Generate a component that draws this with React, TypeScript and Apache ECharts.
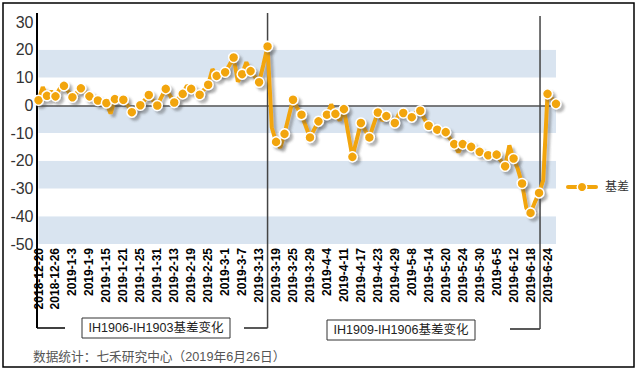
import React, { useEffect, useRef } from "react";
import * as echarts from "echarts";

const dates = [
  "2018-12-20", "2018-12-21", "2018-12-24", "2018-12-25", "2018-12-26", "2018-12-27", "2018-12-28",
  "2019-1-2", "2019-1-3", "2019-1-4", "2019-1-7", "2019-1-8", "2019-1-9", "2019-1-10", "2019-1-11",
  "2019-1-14", "2019-1-15", "2019-1-16", "2019-1-17", "2019-1-18", "2019-1-21", "2019-1-22", "2019-1-23",
  "2019-1-24", "2019-1-25", "2019-1-28", "2019-1-29", "2019-1-30", "2019-1-31",
  "2019-2-1", "2019-2-11", "2019-2-12", "2019-2-13", "2019-2-14", "2019-2-15", "2019-2-18", "2019-2-19",
  "2019-2-20", "2019-2-21", "2019-2-22", "2019-2-25", "2019-2-26", "2019-2-27", "2019-2-28",
  "2019-3-1", "2019-3-4", "2019-3-5", "2019-3-6", "2019-3-7", "2019-3-8", "2019-3-11", "2019-3-12",
  "2019-3-13", "2019-3-14", "2019-3-15", "2019-3-18", "2019-3-19", "2019-3-20", "2019-3-21", "2019-3-22",
  "2019-3-25", "2019-3-26", "2019-3-27", "2019-3-28", "2019-3-29",
  "2019-4-1", "2019-4-2", "2019-4-3", "2019-4-4", "2019-4-8", "2019-4-9", "2019-4-10", "2019-4-11",
  "2019-4-12", "2019-4-15", "2019-4-16", "2019-4-17", "2019-4-18", "2019-4-19", "2019-4-22", "2019-4-23",
  "2019-4-24", "2019-4-25", "2019-4-26", "2019-4-29", "2019-4-30",
  "2019-5-6", "2019-5-7", "2019-5-8", "2019-5-9", "2019-5-10", "2019-5-13", "2019-5-14", "2019-5-15",
  "2019-5-16", "2019-5-17", "2019-5-20", "2019-5-21", "2019-5-22", "2019-5-23", "2019-5-24", "2019-5-27",
  "2019-5-28", "2019-5-29", "2019-5-30", "2019-5-31",
  "2019-6-3", "2019-6-4", "2019-6-5", "2019-6-6", "2019-6-10", "2019-6-11", "2019-6-12", "2019-6-13",
  "2019-6-14", "2019-6-17", "2019-6-18", "2019-6-19", "2019-6-20", "2019-6-21", "2019-6-24", "2019-6-25",
  "2019-6-26",
];

const basis = [
  1.8, 6.5, 3.4, 5.0, 3.2, 6.0, 7.0, 5.0, 2.9, 4.5,
  6.1, 4.7, 3.2, 2.5, 1.7, 1.2, 0.8, -3.0, 2.2, 2.2,
  2.0, 0.0, -2.5, -1.2, 0.0, 1.8, 3.7, 1.7, -0.1, 3.0,
  5.9, 3.5, 1.0, 2.5, 4.1, 7.1, 5.9, 4.8, 3.8, 5.6,
  7.4, 13.0, 10.6, 11.3, 11.9, 14.5, 17.2, 8.5, 11.2, 15.5,
  12.3, 10.3, 8.3, 14.5, 21.2, -8.0, -13.2, -15.3, -10.3, -4.0,
  2.0, -1.0, -3.4, -7.5, -11.6, -8.7, -5.8, -4.6, -3.4, 0.3,
  -3.1, -5.5, -1.4, -10.0, -18.6, -12.5, -6.4, -9.0, -11.6, -7.0,
  -2.6, -5.5, -3.9, -5.0, -6.4, -3.0, -2.8, -3.0, -4.3, -2.5,
  -2.0, -5.0, -7.4, -8.0, -8.8, -9.2, -9.7, -12.0, -14.0, -17.0,
  -14.0, -14.5, -15.0, -16.0, -16.8, -17.5, -18.0, -18.0, -17.8, -20.0,
  -22.0, -14.5, -19.2, -23.0, -28.2, -37.0, -38.8, -35.0, -31.6, -27.0,
  4.1, 2.5, 0.5,
];

const seriesName = "基差";
const yMin = -50;
const yMax = 30;
const yStep = 10;
const segmentLabels = ["IH1906-IH1903基差变化", "IH1909-IH1906基差变化"];
const rollIndex = [54, 118];
const sourceText = "数据统计：七禾研究中心（2019年6月26日）";

const FONT = "'Liberation Sans', Arial, 'Noto Sans CJK SC', sans-serif";

export default function App() {
  const ref = useRef<HTMLDivElement>(null);

  useEffect(() => {
    const chart = echarts.init(ref.current!, null, { renderer: "svg" });
    const orange = "#F2A50C";
    const shadow = {
      shadowColor: "rgba(70,70,70,0.38)",
      shadowBlur: 2,
      shadowOffsetX: 3,
      shadowOffsetY: 3,
    };
    chart.setOption({
      animation: false,
      backgroundColor: "#fff",
      textStyle: { fontFamily: FONT },
      grid: { left: 38.5, top: 22, width: 517.5, height: 222 },
      legend: {
        data: [seriesName],
        left: 566,
        top: 181,
        padding: 0,
        itemWidth: 28,
        itemHeight: 12,
        itemGap: 6,
        lineStyle: {
          width: 4,
          color: orange,
          cap: "round",
          shadowColor: "rgba(0,0,0,0)",
          shadowBlur: 0,
          shadowOffsetX: 0,
          shadowOffsetY: 0,
        },
        itemStyle: {
          color: orange,
          borderColor: "#fff",
          borderWidth: 1.5,
          shadowColor: "rgba(0,0,0,0)",
          shadowBlur: 0,
          shadowOffsetX: 0,
          shadowOffsetY: 0,
        },
        textStyle: { fontSize: 12, color: "#333", fontFamily: FONT, padding: [0, 0, 0, 4] },
      },
      xAxis: [
        {
          type: "category",
          data: dates,
          boundaryGap: false,
          axisLine: { show: false, onZero: false },
          axisTick: { show: false },
          splitLine: { show: false },
          axisLabel: {
            interval: 3,
            rotate: 90,
            fontSize: 12,
            fontWeight: "bold",
            color: "#000",
            fontFamily: FONT,
            margin: 4,
          },
        },
        {
          type: "category",
          data: dates,
          boundaryGap: false,
          position: "top",
          axisLine: { show: true, onZero: true, lineStyle: { color: "#555", width: 1.5 } },
          axisTick: { show: false },
          axisLabel: { show: false },
          splitLine: { show: false },
        },
      ],
      yAxis: {
        type: "value",
        min: yMin,
        max: yMax,
        interval: yStep,
        axisLine: { show: false },
        axisTick: { show: false },
        splitLine: { show: false },
        splitArea: { show: true, areaStyle: { color: ["#D9E4F0", "#FFFFFF"] } },
        axisLabel: { fontSize: 16, color: "#333", margin: 5, fontFamily: FONT },
      },
      series: [
        {
          name: seriesName,
          type: "line",
          data: basis,
          xAxisIndex: 0,
          z: 3,
          showAllSymbol: true,
          symbol: "circle",
          symbolSize: (_v: any, p: any) => (p && p.dataIndex % 2 === 1 ? 0 : 10),
          lineStyle: { color: orange, width: 4, ...shadow },
          itemStyle: { color: orange, borderColor: "#fff", borderWidth: 1.5, ...shadow },
          emphasis: { disabled: true },
        },
      ],
    });

    const xa = chart.convertToPixel({ xAxisIndex: 0 }, rollIndex[0]) as number;
    const xb = (chart.convertToPixel({ xAxisIndex: 0 }, rollIndex[1]) as number) + 1;
    const lineStyle = (w: number, c: string) => ({ stroke: c, lineWidth: w });

    chart.setOption({
      graphic: [
        { type: "line", z: 1, shape: { x1: 37, y1: 13, x2: 37, y2: 328 }, style: lineStyle(2, "#000") },
        { type: "line", z: 1, shape: { x1: 37, y1: 328, x2: 65, y2: 328 }, style: lineStyle(1.5, "#000") },
        { type: "line", z: 1, shape: { x1: 244, y1: 328, x2: xa, y2: 328 }, style: lineStyle(1.5, "#222") },
        { type: "line", z: 1, shape: { x1: xa, y1: 13, x2: xa, y2: 328 }, style: lineStyle(1.5, "#444") },
        { type: "line", z: 1, shape: { x1: 510, y1: 329, x2: xb, y2: 329 }, style: lineStyle(1.5, "#222") },
        { type: "line", z: 1, shape: { x1: xb, y1: 16, x2: xb, y2: 329 }, style: lineStyle(1.5, "#444") },
        {
          type: "rect",
          z: 5,
          shape: { x: 82, y: 318, width: 148, height: 20 },
          style: { fill: "#fff", stroke: "#333", lineWidth: 1 },
        },
        {
          type: "text",
          z: 6,
          style: {
            text: segmentLabels[0],
            x: 156,
            y: 328,
            textAlign: "center",
            textVerticalAlign: "middle",
            fontSize: 12.5,
            fontFamily: FONT,
            fill: "#222",
          },
        },
        {
          type: "rect",
          z: 5,
          shape: { x: 327, y: 320, width: 148, height: 20 },
          style: { fill: "#fff", stroke: "#333", lineWidth: 1 },
        },
        {
          type: "text",
          z: 6,
          style: {
            text: segmentLabels[1],
            x: 401,
            y: 330,
            textAlign: "center",
            textVerticalAlign: "middle",
            fontSize: 12.5,
            fontFamily: FONT,
            fill: "#222",
          },
        },
        {
          type: "text",
          z: 6,
          style: {
            text: sourceText,
            x: 33,
            y: 357,
            textAlign: "left",
            textVerticalAlign: "middle",
            fontSize: 12.7,
            fontFamily: FONT,
            fill: "#555",
          },
        },
        {
          type: "rect",
          z: 10,
          shape: { x: 3, y: 3, width: 631, height: 364 },
          style: { fill: "none", stroke: "#000", lineWidth: 1.5 },
        },
      ],
    });

    return () => chart.dispose();
  }, []);

  return (
    <div
      ref={ref}
      style={{ position: "fixed", left: 0, top: 0, width: 640, height: 372, background: "#fff" }}
    />
  );
}
